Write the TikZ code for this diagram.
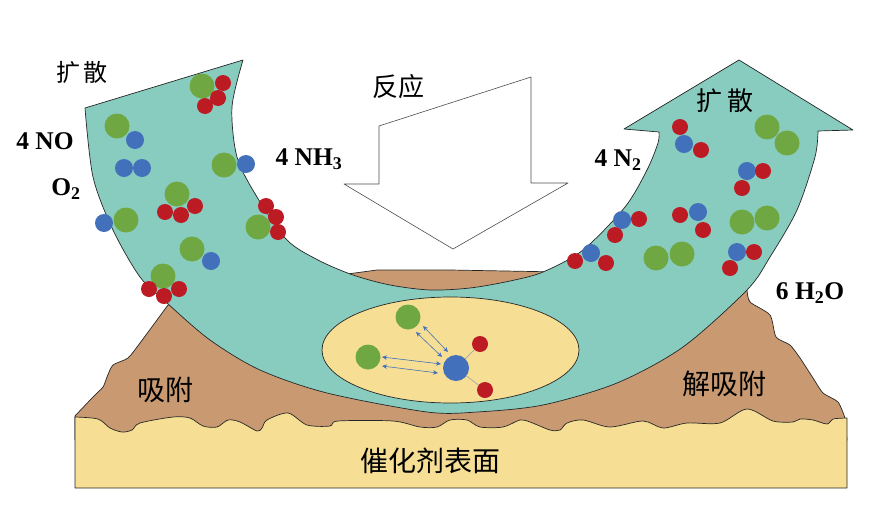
\documentclass[tikz,border=0pt]{standalone}
\usepackage{fontspec}
\usetikzlibrary{arrows.meta}
\setmainfont{Liberation Serif}
\newfontfamily\cjk{Noto Sans CJK SC}
\definecolor{tealband}{HTML}{88CCC0}
\definecolor{soilbrown}{HTML}{C99A72}
\definecolor{paleyellow}{HTML}{F6DF94}
\definecolor{atomgreen}{HTML}{6FA843}
\definecolor{atomblue}{HTML}{4270BA}
\definecolor{atomred}{HTML}{BC1B24}
\tikzset{
  greenatom/.style={circle, fill=atomgreen, inner sep=0pt, minimum size=25pt},
  blueatom/.style={circle, fill=atomblue, inner sep=0pt, minimum size=18pt},
  redatom/.style={circle, fill=atomred, inner sep=0pt, minimum size=16pt},
  bigblueatom/.style={circle, fill=atomblue, inner sep=0pt, minimum size=26pt},
  formula/.style={font=\bfseries\fontsize{25.5}{26}\selectfont, inner sep=0pt},
  cnlabel/.style={font=\cjk\fontsize{#1}{#1}\selectfont, inner sep=0pt},
  outline/.style={draw=black!85, line width=0.7pt, line join=round},
  exchange/.style={{Stealth[length=5pt,width=4.5pt]}-{Stealth[length=5pt,width=4.5pt]}, draw=atomblue, line width=0.6pt},
  bond/.style={draw=black!35, line width=0.7pt}
}
\begin{document}
\begin{tikzpicture}[x=1pt, y=-1pt]
        \useasboundingbox (0,0) rectangle (894,525);
        %Soil
        \draw[outline, fill=soilbrown] (340,275) -- (377,270) -- (450,270) -- (560,272) -- (747,290)
            -- plot[smooth, tension=0.4] coordinates {(747,290) (750,302) (770,315) (776,337) (790,345) (800,358) (813,378) (823,393) (838,402) (845,418)}
            -- (847,440) -- (75,440) -- (75,416)
            -- plot[smooth, tension=0.4] coordinates {(75,416) (93,397) (103,387) (107,377) (113,365) (128,358) (140,343) (157,320) (168,305)}
            -- cycle;
        %Surface
        \draw[outline, fill=paleyellow] (75,488) -- (75,417)
            -- plot[smooth, tension=0.5] coordinates {(75,417) (98,419) (110,428) (122,432) (132,430) (140,423) (173,417) (190,418) (203,426) (217,427) (228,420) (240,422) (257,431) (262,428) (267,420) (288,413) (307,425) (330,426) (338,421) (393,421) (420,427) (437,427) (450,420) (467,420) (480,427) (503,427) (520,420) (530,422) (550,430) (560,430) (567,423) (583,420) (610,427) (643,421) (663,428) (687,423) (720,423) (747,409) (773,421) (793,422) (800,419) (813,420) (827,424) (833,419) (847,418)}
            -- (847,488) -- cycle;
        %Band
        \draw[outline, fill=tealband] (85,108) -- (243,60)
            -- plot[smooth] coordinates {(243,60) (232,107) (237,157) (257,197) (287,240) (318,260) (353,275) (390,285) (430,290) (470,288) (510,281) (543,272) (583,250) (625,207) (647,170) (658,143) (659,132)}
            -- (624,129) -- (739,60) -- (853,130) -- (818,131)
            -- plot[smooth] coordinates {(818,131) (815,157) (797,210) (770,257) (747,290) (683,347) (617,383) (543,405) (477,412) (427,412) (327,393) (260,370) (210,340) (167,303) (140,277) (113,230) (93,177) (85,108)}
            -- cycle;
        \draw[outline, fill=paleyellow] (450.5,350) ellipse [x radius=128.5, y radius=53];
        %Reaction arrow
        \draw[draw=black!70, line width=0.6pt, line join=round] (379,126) -- (531,77) -- (531,183) -- (568,183) -- (453,249) -- (344,184) -- (379,184) -- cycle;
        %Atoms left
        \node[greenatom] (a1) at (202,86) {};
        \node[redatom]   (a2) at (223,83) {};
        \node[redatom]   (a3) at (218,98) {};
        \node[redatom]   (a4) at (205,106) {};
        \node[greenatom] (b1) at (117,126) {};
        \node[blueatom]  (b2) at (135,140) {};
        \node[blueatom]  (c1) at (124,168) {};
        \node[blueatom]  (c2) at (142,168) {};
        \node[greenatom] (d1) at (224,165) {};
        \node[blueatom]  (d2) at (246,164) {};
        \node[greenatom] (e1) at (177,194) {};
        \node[redatom]   (e2) at (165,212) {};
        \node[redatom]   (e3) at (181,215) {};
        \node[redatom]   (e4) at (195,206) {};
        \node[blueatom]  (f1) at (104,223) {};
        \node[greenatom] (f2) at (126,220) {};
        \node[redatom]   (g1) at (266,206) {};
        \node[redatom]   (g2) at (276,217) {};
        \node[redatom]   (g3) at (278,232) {};
        \node[greenatom] (g4) at (258,227) {};
        \node[greenatom] (h1) at (192,249) {};
        \node[blueatom]  (h2) at (211,261) {};
        \node[greenatom] (i1) at (163,276) {};
        \node[redatom]   (i2) at (149,289) {};
        \node[redatom]   (i3) at (164,296) {};
        \node[redatom]   (i4) at (179,289) {};
        %Atoms right
        \node[redatom]   (j1) at (680,127) {};
        \node[blueatom]  (j2) at (684,144) {};
        \node[redatom]   (j3) at (701,150) {};
        \node[greenatom] (k1) at (767,127) {};
        \node[greenatom] (k2) at (787,143) {};
        \node[blueatom]  (l1) at (747,171) {};
        \node[redatom]   (l2) at (763,171) {};
        \node[redatom]   (l3) at (742,188) {};
        \node[blueatom]  (m1) at (622,220) {};
        \node[redatom]   (m2) at (639,219) {};
        \node[redatom]   (m3) at (615,235) {};
        \node[redatom]   (n1) at (680,215) {};
        \node[blueatom]  (n2) at (698,212) {};
        \node[redatom]   (n3) at (703,230) {};
        \node[greenatom] (o1) at (742,222) {};
        \node[greenatom] (o2) at (767,218) {};
        \node[blueatom]  (p1) at (591,253) {};
        \node[redatom]   (p2) at (575,261) {};
        \node[redatom]   (p3) at (606,263) {};
        \node[greenatom] (q1) at (656,258) {};
        \node[greenatom] (q2) at (682,254) {};
        \node[blueatom]  (r1) at (737,252) {};
        \node[redatom]   (r2) at (754,252) {};
        \node[redatom]   (r3) at (730,268) {};
        %Atoms on the surface
        \node[greenatom]   (s1) at (408,317) {};
        \node[greenatom]   (s2) at (368,357) {};
        \node[bigblueatom] (s3) at (456,368) {};
        \node[redatom]     (s4) at (480,344) {};
        \node[redatom]     (s5) at (485,390) {};
        \draw[bond] (s3) -- (s4);
        \draw[bond] (s3) -- (s5);
        %Exchange arrows
        \coordinate (x1) at (423,326);
        \coordinate (x2) at (448,352);
        \coordinate (x3) at (416,332);
        \coordinate (x4) at (442,357);
        \coordinate (x5) at (382,357);
        \coordinate (x6) at (441,364);
        \coordinate (x7) at (382,366);
        \coordinate (x8) at (438,373);
        \draw[exchange] (x1) -- (x2);
        \draw[exchange] (x3) -- (x4);
        \draw[exchange] (x5) -- (x6);
        \draw[exchange] (x7) -- (x8);
        %Labels
        \node[cnlabel=24] (t1) at (82,72) {扩\,散};
        \node[cnlabel=26] (t2) at (398,87) {反应};
        \node[cnlabel=26] (t3) at (725,101) {扩\,散};
        \node[cnlabel=28] (t4) at (165,390) {吸附};
        \node[cnlabel=28] (t5) at (724,384) {解吸附};
        \node[cnlabel=28] (t6) at (430,461) {催化剂表面};
        \node[formula] (f1l) at (45,141) {4 NO};
        \node[formula] (f2l) at (66,189) {O\textsubscript{2}};
        \node[formula] (f3l) at (309,159) {4 NH\textsubscript{3}};
        \node[formula] (f4l) at (618,160) {4 N\textsubscript{2}};
        \node[formula] (f5l) at (810,293) {6 H\textsubscript{2}O};
    \end{tikzpicture}
\end{document}
